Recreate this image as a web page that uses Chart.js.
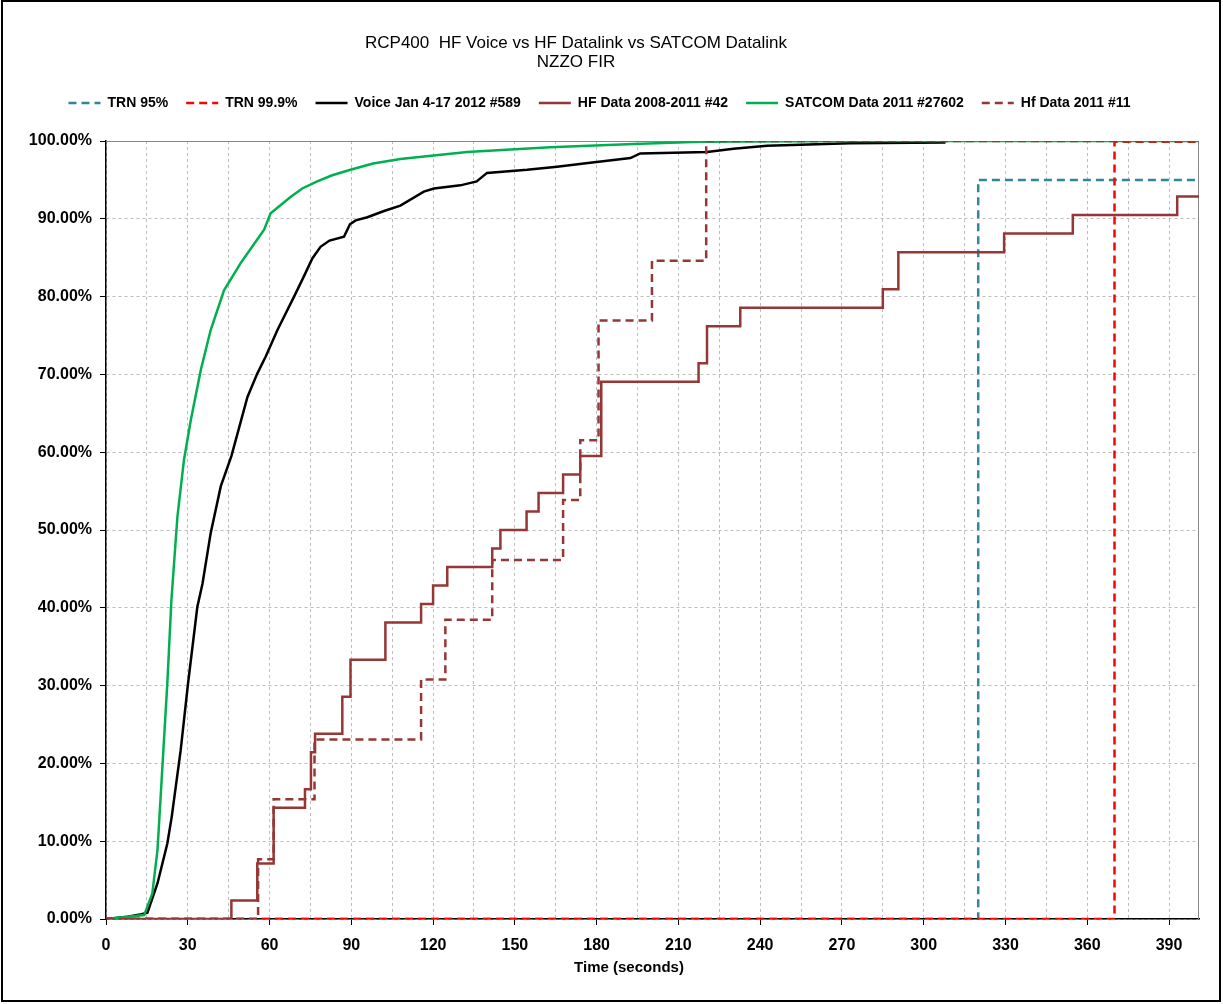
<!DOCTYPE html>
<html>
<head>
<meta charset="utf-8">
<title>RCP400 HF Voice vs HF Datalink vs SATCOM Datalink</title>
<script src="https://cdn.jsdelivr.net/npm/chart.js@4.4.1/dist/chart.umd.min.js"></script>
<style>
  html, body { margin: 0; padding: 0; background: #fff; }
  #wrap { width: 1223px; height: 1004px; }
  canvas { background: #fff; }
</style>
</head>
<body>
<div id="wrap"><canvas id="rcp" width="1223" height="1004"></canvas></div>
<script>
// values (time in seconds, cumulative %)
var trn95Time = [0, 320, 401];
var trn95Pct = [0, 95, 95];

var trn999Time = [0, 370, 401];
var trn999Pct = [0, 99.9, 99.9];

var voiceTime = [0, 7.9, 13, 15.2, 18.9, 22.5, 24.1, 27.4, 30.1, 33.5, 35.4, 38.4, 42.1, 46, 51.9, 55.5, 58.6, 62.9, 69, 72.6, 75.7, 78.7, 82, 87.3, 89.5, 91.6, 95.9, 102, 108, 116.6, 120.3, 130, 136, 139.8, 154.5, 165.5, 175.3, 192.4, 196, 220.5, 230.2, 242.5, 273, 308];
var voicePct = [0, 0.3, 0.6, 0.8, 4.6, 9.7, 13.1, 21.7, 30.3, 40.1, 43.1, 49.6, 55.6, 59.5, 67.1, 70.1, 72.3, 75.7, 80, 82.6, 84.9, 86.4, 87.2, 87.7, 89.3, 89.8, 90.2, 91, 91.7, 93.5, 93.9, 94.3, 94.8, 95.9, 96.3, 96.7, 97.1, 97.8, 98.4, 98.6, 99, 99.4, 99.7, 99.8];

var hfTime = [0, 46, 55.5, 61.5, 73, 75.2, 76.7, 86.7, 89.7, 102.5, 115.6, 120, 125.2, 141.7, 144.7, 154.3, 158.7, 167.7, 174, 181.7, 217.4, 220.5, 232.7, 285, 290.7, 329.5, 354.7, 393, 401];
var hfPct = [0, 2.38, 7.14, 14.29, 16.67, 21.43, 23.81, 28.57, 33.33, 38.10, 40.48, 42.86, 45.24, 47.62, 50, 52.38, 54.76, 57.14, 59.52, 69.05, 71.43, 76.19, 78.57, 80.95, 85.71, 88.10, 90.48, 92.86, 92.86];

var satcomTime = [0, 14, 17, 18.9, 20.7, 22.5, 24, 26.2, 28.6, 31.1, 34.8, 38.4, 43.3, 49.4, 54, 58, 60.4, 67.7, 72, 77.5, 83, 89.7, 98, 108, 132.5, 163, 193.6, 218, 273, 401];
var satcomPct = [0, 0.5, 3.3, 8.9, 19.6, 30.3, 41, 51.7, 59, 64.1, 70.6, 75.7, 80.8, 84.3, 86.6, 88.6, 90.7, 92.8, 93.9, 94.8, 95.6, 96.3, 97.1, 97.7, 98.6, 99.2, 99.6, 99.9, 100, 100];

var hf2011Time = [0, 55.8, 61.5, 76.5, 115.6, 124.5, 141.7, 167.7, 174, 180.7, 200.3, 220.2, 401];
var hf2011Pct = [0, 7.69, 15.38, 23.08, 30.77, 38.46, 46.15, 53.85, 61.54, 76.92, 84.62, 100, 100];

var titleLines = ['RCP400  HF Voice vs HF Datalink vs SATCOM Datalink', 'NZZO FIR'];
var xTitle = 'Time (seconds)';

function pts(xs, ys) {
    return xs.map(function(x, i) { return {x: x, y: ys[i]}; });
}

var FONT = '"Liberation Sans", Arial, sans-serif';
var DASH = [8, 5];

var series = [
    {label: 'TRN 95%', data: pts(trn95Time, trn95Pct), borderColor: '#31859C', borderDash: DASH, stepped: 'before'},
    {label: 'TRN 99.9%', data: pts(trn999Time, trn999Pct), borderColor: '#FF0000', borderDash: DASH, stepped: 'before'},
    {label: 'Voice Jan 4-17 2012 #589', data: pts(voiceTime, voicePct), borderColor: '#000000'},
    {label: 'HF Data 2008-2011 #42', data: pts(hfTime, hfPct), borderColor: '#953735', stepped: 'before'},
    {label: 'SATCOM Data 2011 #27602', data: pts(satcomTime, satcomPct), borderColor: '#00B050'},
    {label: 'Hf Data 2011 #11', data: pts(hf2011Time, hf2011Pct), borderColor: '#953735', borderDash: DASH, stepped: 'before'}
];
// excel paints later series on top
series.forEach(function(s, i) {
    s.backgroundColor = s.borderColor;
    s.borderWidth = 2.5;
    s.pointRadius = 0;
    s.fill = false;
    s.order = 10 - i;
});

var frame = {
    id: 'frame',
    beforeDatasetsDraw: function(chart) {
        var a = chart.chartArea, c = chart.ctx;
        c.save();
        c.strokeStyle = '#868686';
        c.lineWidth = 1;
        c.beginPath();
        c.moveTo(a.left, a.top + 0.5);
        c.lineTo(a.right - 0.5, a.top + 0.5);
        c.lineTo(a.right - 0.5, a.bottom);
        c.stroke();
        c.restore();
    },
    afterDraw: function(chart) {
        var c = chart.ctx;
        c.save();
        c.fillStyle = '#000';
        c.textAlign = 'center';
        c.textBaseline = 'middle';
        c.font = '17px ' + FONT;
        c.fillText(titleLines[0], 576, 43);
        c.fillText(titleLines[1], 576, 62);
        c.font = 'bold 15px ' + FONT;
        c.fillText(xTitle, 629, 968);
        c.strokeStyle = '#000';
        c.lineWidth = 2;
        c.strokeRect(2, 1, 1218, 1000);
        c.restore();
    }
};

var chart = new Chart(document.getElementById('rcp'), {
    type: 'line',
    data: {datasets: series},
    plugins: [frame],
    options: {
        responsive: false,
        animation: false,
        devicePixelRatio: 1,
        layout: {padding: {top: 78, right: 24, bottom: 0, left: 0}},
        plugins: {
            // empty title only keeps a gap between legend and plot
            title: {display: true, text: '', padding: 0, font: {size: 21, lineHeight: 1}},
            tooltip: {enabled: false},
            legend: {
                position: 'top',
                weight: 3000,
                labels: {
                    usePointStyle: true,
                    pointStyle: 'line',
                    pointStyleWidth: 32,
                    padding: 18,
                    color: '#000',
                    font: {family: FONT, size: 14, weight: 'bold'},
                    sort: function(a, b) { return a.datasetIndex - b.datasetIndex; },
                    generateLabels: function(ch) {
                        var items = Chart.defaults.plugins.legend.labels.generateLabels(ch);
                        items.forEach(function(it) {
                            var ds = ch.data.datasets[it.datasetIndex];
                            it.lineDash = ds.borderDash || [];
                            it.lineWidth = 2.5;
                            it.strokeStyle = ds.borderColor;
                        });
                        return items;
                    }
                }
            }
        },
        scales: {
            x: {
                type: 'linear',
                min: 0,
                max: 401,
                afterFit: function(s) { s.height = 85; },
                border: {color: '#000', width: 1.5, dash: [3, 3]},
                grid: {
                    color: '#BDBDBD',
                    tickLength: 6,
                    tickBorderDash: [],
                    tickColor: function(c) { return c.tick && c.tick.value % 30 === 0 ? '#000' : 'rgba(0,0,0,0)'; }
                },
                ticks: {
                    stepSize: 15,
                    includeBounds: false,
                    autoSkip: false,
                    maxRotation: 0,
                    padding: 11,
                    color: '#000',
                    font: {family: FONT, size: 16, weight: 'bold'},
                    callback: function(v) { return v % 30 === 0 ? v : ''; }
                }
            },
            y: {
                min: 0,
                max: 100,
                afterFit: function(s) { s.width = 106; },
                border: {color: '#000', width: 1.5, dash: [3, 3]},
                grid: {
                    color: '#BDBDBD',
                    tickLength: 6,
                    tickBorderDash: [],
                    tickColor: '#000'
                },
                ticks: {
                    stepSize: 10,
                    padding: 8,
                    color: '#000',
                    font: {family: FONT, size: 16, weight: 'bold'},
                    callback: function(v) { return v.toFixed(2) + '%'; }
                }
            }
        }
    }
});
</script>
</body>
</html>
